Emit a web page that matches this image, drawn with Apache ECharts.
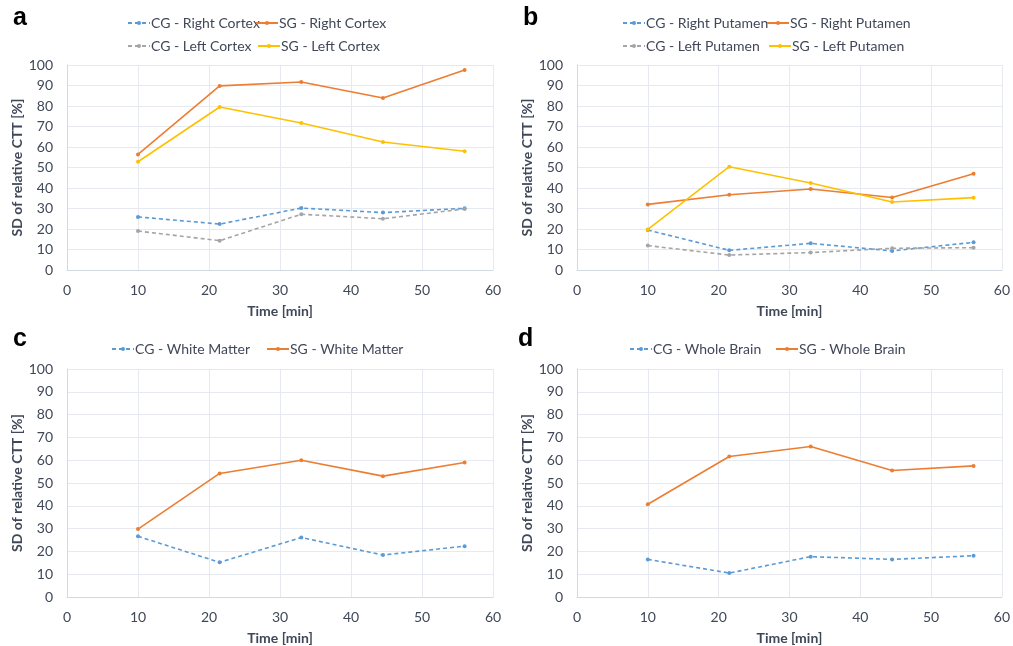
<!DOCTYPE html>
<html><head><meta charset="utf-8">
<script src="https://cdn.jsdelivr.net/npm/echarts@6/dist/echarts.min.js"></script>
<style>html,body{margin:0;padding:0;background:#fff}#c{width:1013px;height:646px}</style>
</head><body><div id="c"></div>
<script>
var times = [10, 21.5, 33, 44.5, 56];
var xTicks = [0, 10, 20, 30, 40, 50, 60];
var yTicks = [0, 10, 20, 30, 40, 50, 60, 70, 80, 90, 100];

var cgRightCortex = [25.9, 22.4, 30.2, 28.0, 30.1];
var sgRightCortex = [56.4, 89.8, 91.7, 83.9, 97.6];
var cgLeftCortex = [19.0, 14.3, 27.2, 25.0, 29.8];
var sgLeftCortex = [52.8, 79.5, 71.7, 62.4, 57.9];

var cgRightPutamen = [19.5, 9.6, 13.0, 9.3, 13.5];
var sgRightPutamen = [32.0, 36.7, 39.5, 35.4, 47.0];
var cgLeftPutamen = [11.9, 7.3, 8.5, 10.6, 10.9];
var sgLeftPutamen = [19.8, 50.4, 42.4, 33.2, 35.3];

var cgWhiteMatter = [26.6, 15.2, 26.1, 18.4, 22.3];
var sgWhiteMatter = [29.8, 54.2, 60.0, 53.0, 59.0];

var cgWholeBrain = [16.5, 10.5, 17.7, 16.5, 18.1];
var sgWholeBrain = [40.7, 61.6, 66.0, 55.5, 57.5];

var panelLabels = ['a', 'b', 'c', 'd'];
var xName = 'Time [min]';
var yName = 'SD of relative CTT [%]';

var BLUE = '#5B9BD5', ORANGE = '#ED7D31', GRAY = '#A5A5A5', YELLOW = '#FFC000';
var TXT = '#404858';
var FONT = 'Lato';

var grids = [
  {left: 67, top: 65, width: 426, height: 205},
  {left: 577, top: 65, width: 426, height: 205},
  {left: 67, top: 369, width: 426, height: 228},
  {left: 577, top: 369, width: 426, height: 228}
];

function pairs(vals) { return times.map(function (t, i) { return [t, vals[i]]; }); }

var seriesDefs = [
  // panel, name, values, color, dashed, legend icon x, legend y center
  [0, 'CG - Right Cortex', cgRightCortex, BLUE, true, 127, 19],
  [0, 'SG - Right Cortex', sgRightCortex, ORANGE, false, 255, 19],
  [0, 'CG - Left Cortex', cgLeftCortex, GRAY, true, 127, 42],
  [0, 'SG - Left Cortex', sgLeftCortex, YELLOW, false, 257, 42],
  [1, 'CG - Right Putamen', cgRightPutamen, BLUE, true, 622, 19],
  [1, 'SG - Right Putamen', sgRightPutamen, ORANGE, false, 766, 19],
  [1, 'CG - Left Putamen', cgLeftPutamen, GRAY, true, 622, 42],
  [1, 'SG - Left Putamen', sgLeftPutamen, YELLOW, false, 768, 42],
  [2, 'CG - White Matter', cgWhiteMatter, BLUE, true, 111, 345],
  [2, 'SG - White Matter', sgWhiteMatter, ORANGE, false, 266, 345],
  [3, 'CG - Whole Brain', cgWholeBrain, BLUE, true, 629, 345],
  [3, 'SG - Whole Brain', sgWholeBrain, ORANGE, false, 775, 345]
];

var xAxes = [], yAxes = [], series = [], legends = [];
grids.forEach(function (g, i) {
  xAxes.push({
    type: 'value', gridIndex: i, min: xTicks[0], max: xTicks[xTicks.length - 1], interval: 10,
    name: xName, nameLocation: 'middle', nameGap: 34,
    nameTextStyle: {fontFamily: FONT, fontWeight: 'bold', fontSize: 14, color: TXT},
    axisLine: {show: true, lineStyle: {color: '#d3d9e3', width: 1}},
    axisTick: {show: false},
    axisLabel: {fontFamily: FONT, fontSize: 14, color: TXT, margin: 13},
    splitLine: {show: true, lineStyle: {color: '#e6e9ef', width: 1}}
  });
  yAxes.push({
    type: 'value', gridIndex: i, min: yTicks[0], max: yTicks[yTicks.length - 1], interval: 10,
    name: yName, nameLocation: 'middle', nameGap: 42, nameRotate: 90,
    nameTextStyle: {fontFamily: FONT, fontWeight: 'bold', fontSize: 14, color: TXT},
    axisLine: {show: true, lineStyle: {color: '#d3d9e3', width: 1}},
    axisTick: {show: false},
    axisLabel: {fontFamily: FONT, fontSize: 14, color: TXT, margin: 14},
    splitLine: {show: true, lineStyle: {color: '#e6e9ef', width: 1}}
  });
});

seriesDefs.forEach(function (d) {
  series.push({
    type: 'line', name: d[1], xAxisIndex: d[0], yAxisIndex: d[0],
    data: pairs(d[2]),
    symbol: 'circle', symbolSize: 4,
    itemStyle: {color: d[3]},
    lineStyle: {color: d[3], width: 1.6, type: d[4] ? [4, 3] : 'solid'},
    emphasis: {disabled: true},
    animation: false
  });
  legends.push({
    data: [d[1]], left: d[5], top: d[6] - 3, itemWidth: 22, itemHeight: 5, padding: 0,
    textStyle: {fontFamily: FONT, fontSize: 14, color: TXT, padding: [0, 0, 0, -4]},
    selectedMode: false
  });
});

var labelPos = [[13, 27], [523, 27], [13, 348], [518, 348]];
var graphics = panelLabels.map(function (t, i) {
  return {type: 'text', left: labelPos[i][0], top: labelPos[i][1] - 21,
    style: {text: t, font: 'bold 25px "Liberation Sans"', fill: '#000'}};
});

var chart = echarts.init(document.getElementById('c'), null, {renderer: 'canvas'});
chart.setOption({
  animation: false,
  backgroundColor: '#fff',
  grid: grids,
  xAxis: xAxes,
  yAxis: yAxes,
  legend: legends,
  series: series,
  graphic: graphics
});
</script></body></html>
